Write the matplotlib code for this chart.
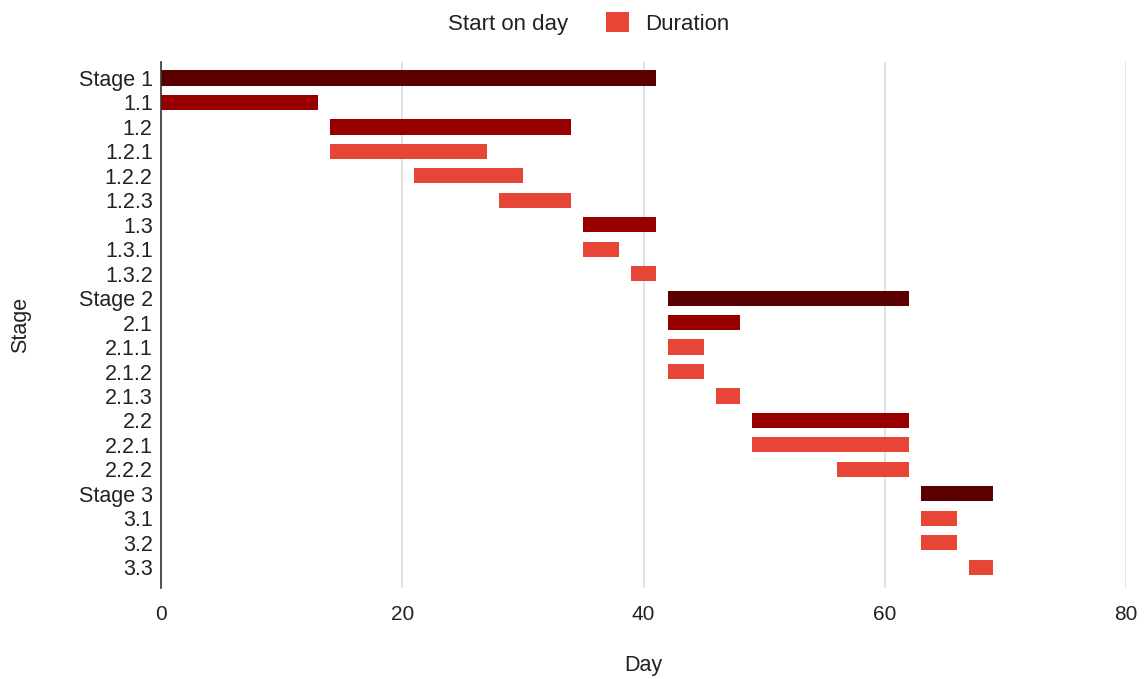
import matplotlib
matplotlib.use("Agg")
import matplotlib.pyplot as plt
from matplotlib.patches import Patch

stages = ["Stage 1", "1.1", "1.2", "1.2.1", "1.2.2", "1.2.3", "1.3", "1.3.1", "1.3.2",
          "Stage 2", "2.1", "2.1.1", "2.1.2", "2.1.3", "2.2", "2.2.1", "2.2.2",
          "Stage 3", "3.1", "3.2", "3.3"]
start_day = [0, 0, 14, 14, 21, 28, 35, 35, 39,
             42, 42, 42, 42, 46, 49, 49, 56,
             63, 63, 63, 67]
duration = [41, 13, 20, 13, 9, 6, 6, 3, 2,
            20, 6, 3, 3, 2, 13, 13, 6,
            6, 3, 3, 2]
level = [0, 1, 1, 2, 2, 2, 1, 2, 2,
         0, 1, 2, 2, 2, 1, 2, 2,
         0, 2, 2, 2]

level_colors = {0: "#5b0000", 1: "#980000", 2: "#e74536"}

plt.rcParams["font.family"] = ["Liberation Sans", "DejaVu Sans"]

fig = plt.figure(figsize=(11.46, 6.79), dpi=100)
ax = fig.add_axes([161 / 1146, 1 - 588 / 679, (1126 - 161) / 1146, (588 - 62) / 679])

y = list(range(len(stages)))
ax.barh(y, start_day, height=0.62, color="none", label="Start on day")
ax.barh(y, duration, left=start_day, height=0.62,
        color=[level_colors[l] for l in level], label="Duration")

ax.set_xlim(0, 80)
ax.set_ylim(20.85, -0.654)
ax.set_xticks([0, 20, 40, 60, 80])
ax.set_yticks(y)
ax.set_yticklabels(stages)
ax.tick_params(axis="x", length=0, pad=12, labelsize=15, labelcolor="#222222")
ax.tick_params(axis="y", length=0, pad=6, labelsize=15.5, labelcolor="#222222")
ax.grid(axis="x", color="#dddddd", linewidth=1.2)
ax.set_axisbelow(True)
for s in ["top", "right", "bottom"]:
    ax.spines[s].set_visible(False)
ax.spines["left"].set_color("#333333")
ax.spines["left"].set_linewidth(1.2)

ax.set_xlabel("Day", fontsize=15.5, color="#222222", va="center")
ax.xaxis.set_label_coords(0.5, -(665 - 588) / 526)
ax.set_ylabel("Stage", fontsize=15.5, color="#222222", labelpad=34)

handles = [Patch(facecolor="none", edgecolor="none"), Patch(facecolor="#e74536")]
fig.legend(handles, ["Start on day", "Duration"], loc="center", bbox_to_anchor=(0.497, 0.965),
           ncol=2, frameon=False, fontsize=16, handlelength=1.0, handleheight=1.0,
           columnspacing=1.7, handletextpad=0.75, labelcolor="#222222")

fig.savefig("out.png", dpi=100)
